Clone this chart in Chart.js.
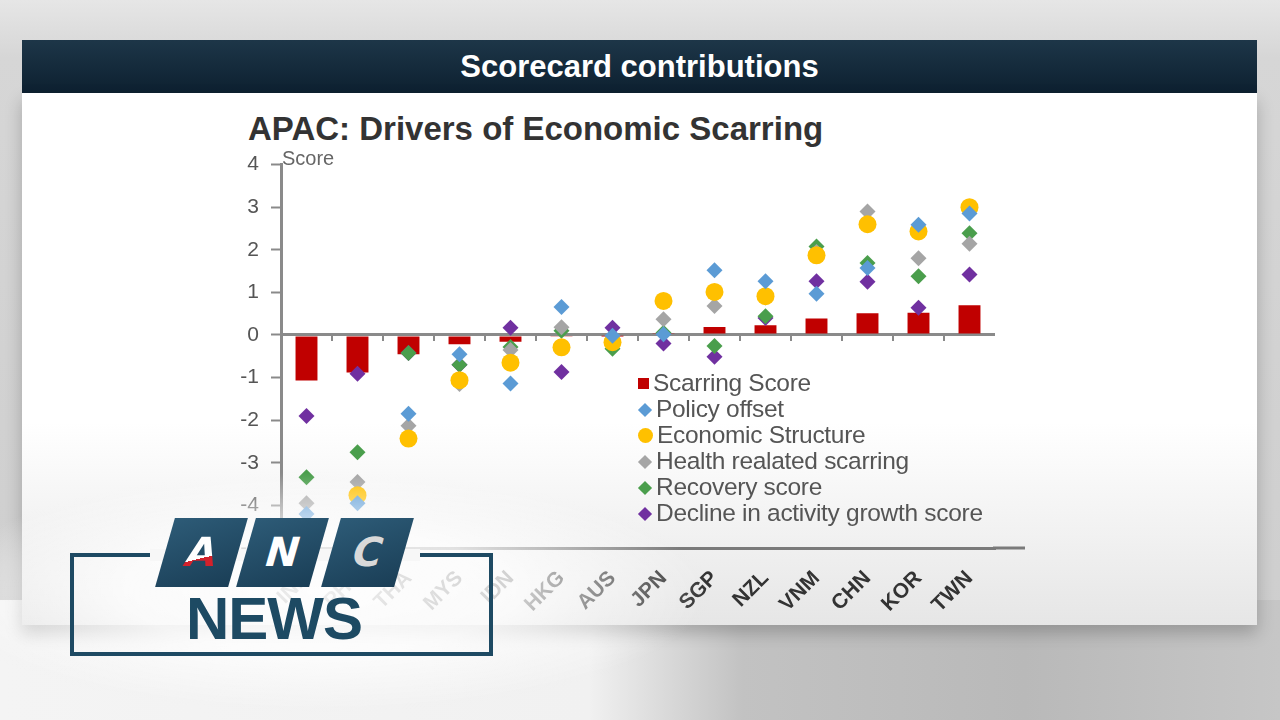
<!DOCTYPE html>
<html>
<head>
<meta charset="utf-8">
<title>APAC: Drivers of Economic Scarring</title>
<script src="https://cdn.jsdelivr.net/npm/chart.js@4.4.0/dist/chart.umd.min.js"></script>
<style>
  html, body { margin: 0; padding: 0; }
  body {
    width: 1280px; height: 720px; overflow: hidden; position: relative;
    font-family: "Liberation Sans", Arial, sans-serif;
    background: linear-gradient(180deg, #e6e6e6 0%, #d6d6d6 8%, #cdcdcd 100%);
  }
  #bottomBg {
    position: absolute; left: 0; top: 600px; width: 1280px; height: 120px;
    background: linear-gradient(90deg, #f4f4f4 0%, #f1f1f1 46%, #c2c2c2 58%, #b9b9b9 80%, #c6c6c6 100%);
  }
  #header {
    position: absolute; left: 22px; top: 40px; width: 1235px; height: 53px;
    background: linear-gradient(180deg, #1d3648 0%, #0d2030 100%);
    color: #fff; font-weight: bold; font-size: 31px; text-align: center; line-height: 54px;
  }
  #panel {
    position: absolute; left: 22px; top: 93px; width: 1235px; height: 532px;
    background: linear-gradient(180deg, #ffffff 0%, #ffffff 62%, #e6e6e6 100%);
    box-shadow: 0 8px 16px rgba(0,0,0,0.22);
  }
  #title {
    position: absolute; left: 248px; top: 110px;
    font-size: 33px; font-weight: bold; color: #333;
  }
  #chartBox { position: absolute; left: 200px; top: 140px; width: 860px; height: 485px; }
  #legend { position: absolute; left: 638px; top: 370px; font-size: 24.5px; color: #555; letter-spacing: -0.3px; }
  #legend .row { height: 26px; line-height: 26px; white-space: nowrap; }
  #legend .mk { display: inline-block; vertical-align: middle; margin-right: 4px; position: relative; top: -1px; }
  #haze {
    position: absolute; left: 0; top: 420px; width: 760px; height: 300px;
    background: radial-gradient(ellipse 390px 120px at 320px 172px,
      rgba(255,255,255,0.92) 0%, rgba(255,255,255,0.78) 50%, rgba(255,255,255,0) 100%);
  }
  #logoBox {
    position: absolute; left: 70px; top: 553px; width: 423px; height: 103px;
    box-sizing: border-box; border: 4px solid #1e4a63;
  }
  #logoGap { position: absolute; left: 150px; top: 549px; width: 270px; height: 12px; background: #f7f7f7; }
  .tile {
    position: absolute; top: 518px; width: 73px; height: 69px;
    background: linear-gradient(160deg, #2d5b77 0%, #1a3e56 100%);
    transform: skewX(-16deg);
    font-family: "DejaVu Sans", sans-serif; font-weight: bold; font-size: 40px;
    text-align: center; line-height: 69px;
  }
  .tile span { display: inline-block; }
  #news {
    position: absolute; left: 186px; top: 589px; font-size: 60px; line-height: 60px;
    font-weight: bold; color: #1d4a63; letter-spacing: -1px;
  }
</style>
</head>
<body>
<div id="bottomBg"></div>
<div id="header">Scorecard contributions</div>
<div id="panel"></div>
<div id="title">APAC: Drivers of Economic Scarring</div>
<div id="chartBox"><canvas id="chart"></canvas></div>
<div id="legend"></div>
<div id="haze"></div>
<div id="logoBox"></div>
<div id="logoGap"></div>
<div class="tile" style="left:165px;"><span style="background:linear-gradient(165deg,#ffffff 58%,#d3212b 58%);-webkit-background-clip:text;background-clip:text;color:transparent;">A</span></div>
<div class="tile" style="left:246px;"><span style="color:#ffffff;">N</span></div>
<div class="tile" style="left:331px;"><span style="color:#d9d9d9;">C</span></div>
<div id="news">NEWS</div>

<script>
// categories (first two hidden behind the logo in the reference)
const countries = ["IND", "PHL", "THA", "MYS", "IDN", "HKG", "AUS", "JPN", "SGP", "NZL", "VNM", "CHN", "KOR", "TWN"];

const scarringScore = [-1.07, -0.88, -0.45, -0.22, -0.16, -0.03, -0.02, 0.03, 0.19, 0.23, 0.39, 0.51, 0.52, 0.70];
const policyOffset  = [-4.20, -3.95, -1.85, -0.45, -1.14, 0.66, -0.02, 0.02, 1.52, 1.26, 0.97, 1.57, 2.59, 2.85];
const econStructure = [-4.60, -3.76, -2.43, -1.06, -0.65, -0.29, -0.17, 0.80, 1.01, 0.91, 1.87, 2.60, 2.43, 3.00];
const healthScarring = [-3.95, -3.45, -2.13, -1.15, -0.35, 0.18, -0.08, 0.37, 0.68, 0.88, 1.95, 2.90, 1.80, 2.14];
const recoveryScore = [-3.34, -2.75, -0.42, -0.70, -0.28, 0.10, -0.32, 0.05, -0.26, 0.44, 2.08, 1.69, 1.38, 2.39];
const declineScore  = [-1.90, -0.91, -0.42, -0.70, 0.17, -0.87, 0.17, -0.20, -0.51, 0.40, 1.26, 1.25, 0.64, 1.42];

const seriesNames = ["Scarring Score", "Policy offset", "Economic Structure", "Health realated scarring", "Recovery score", "Decline in activity growth score"];
const seriesColors = ["#c00000", "#5b9bd5", "#ffc000", "#a5a5a5", "#4a9e4c", "#7030a0"];
const yTicks = [-5, -4, -3, -2, -1, 0, 1, 2, 3, 4];

// legend built from the series arrays
const legend = document.getElementById("legend");
seriesNames.forEach((name, i) => {
  let mk;
  if (i === 0) mk = `<span class="mk" style="width:11px;height:11px;background:${seriesColors[i]};"></span>`;
  else if (i === 2) mk = `<span class="mk" style="width:15px;height:15px;border-radius:50%;background:${seriesColors[i]};"></span>`;
  else mk = `<span class="mk" style="width:10px;height:10px;background:${seriesColors[i]};transform:rotate(45deg);margin-left:2px;margin-right:6px;"></span>`;
  legend.innerHTML += `<div class="row">${mk}${name}</div>`;
});

function pointSet(label, data, color, style, radius, order) {
  return {
    type: "line", label, data, showLine: false, order,
    pointStyle: style, pointRadius: radius, pointHoverRadius: radius,
    pointBackgroundColor: color, pointBorderColor: color, pointBorderWidth: 0
  };
}

// small ticks along the zero line + "Score" label + longer bottom rule
const decorations = {
  id: "decorations",
  beforeDatasetsDraw(chart) {
    const { ctx, chartArea } = chart;
    const x = chart.scales.x, y = chart.scales.y;
    const y0 = y.getPixelForValue(0);
    ctx.save();
    ctx.strokeStyle = "#8a8a8a";
    ctx.lineWidth = 2;
    for (let i = 1; i < countries.length; i++) {
      const bx = x.getPixelForValue(i - 0.5);
      ctx.beginPath();
      ctx.moveTo(bx, y0);
      ctx.lineTo(bx, y0 + 6);
      ctx.stroke();
    }
    ctx.strokeStyle = "#7a7a7a";
    ctx.lineWidth = 3;
    ctx.beginPath();
    ctx.moveTo(chartArea.right - 2, chartArea.bottom);
    ctx.lineTo(chartArea.right + 30, chartArea.bottom);
    ctx.stroke();
    ctx.fillStyle = "#666";
    ctx.font = "20px 'Liberation Sans', Arial, sans-serif";
    ctx.textBaseline = "middle";
    ctx.fillText("Score", chartArea.left + 1, chartArea.top - 5);
    ctx.restore();
  }
};

new Chart(document.getElementById("chart"), {
  type: "bar",
  data: {
    labels: countries,
    datasets: [
      { type: "bar", label: seriesNames[0], data: scarringScore, backgroundColor: seriesColors[0],
        barPercentage: 0.43, categoryPercentage: 1.0, order: 6 },
      pointSet(seriesNames[1], policyOffset, seriesColors[1], "rectRot", 8, 1),
      pointSet(seriesNames[2], econStructure, seriesColors[2], "circle", 9, 2),
      pointSet(seriesNames[3], healthScarring, seriesColors[3], "rectRot", 8, 3),
      pointSet(seriesNames[4], recoveryScore, seriesColors[4], "rectRot", 8, 4),
      pointSet(seriesNames[5], declineScore, seriesColors[5], "rectRot", 8, 5)
    ]
  },
  options: {
    responsive: true,
    maintainAspectRatio: false,
    animation: false,
    layout: { padding: { left: 0, right: 65, top: 23, bottom: 0 } },
    plugins: { legend: { display: false }, tooltip: { enabled: false }, title: { display: false } },
    scales: {
      x: {
        position: "bottom",
        grid: { display: false },
        border: { display: true, color: "#7a7a7a", width: 3 },
        ticks: {
          autoSkip: false, minRotation: 45, maxRotation: 45, padding: 10,
          color: "#333", font: { family: "'Liberation Sans', Arial, sans-serif", size: 21, weight: "bold" }
        },
        afterFit(scale) { scale.height = 77; }
      },
      y: {
        min: -5, max: 4,
        afterBuildTicks(scale) { scale.ticks = yTicks.map(v => ({ value: v })); },
        grid: {
          color: ctx => ctx.tick && ctx.tick.value === 0 ? "#8a8a8a" : "rgba(0,0,0,0)",
          lineWidth: ctx => ctx.tick && ctx.tick.value === 0 ? 3 : 1,
          tickColor: "#8a8a8a", tickLength: 10, tickWidth: 2
        },
        border: { display: true, color: "#8a8a8a", width: 3 },
        ticks: {
          padding: 12, color: "#555",
          font: { family: "'Liberation Sans', Arial, sans-serif", size: 21 }
        },
        afterFit(scale) { scale.width = 81; }
      }
    }
  },
  plugins: [decorations]
});
</script>
</body>
</html>
